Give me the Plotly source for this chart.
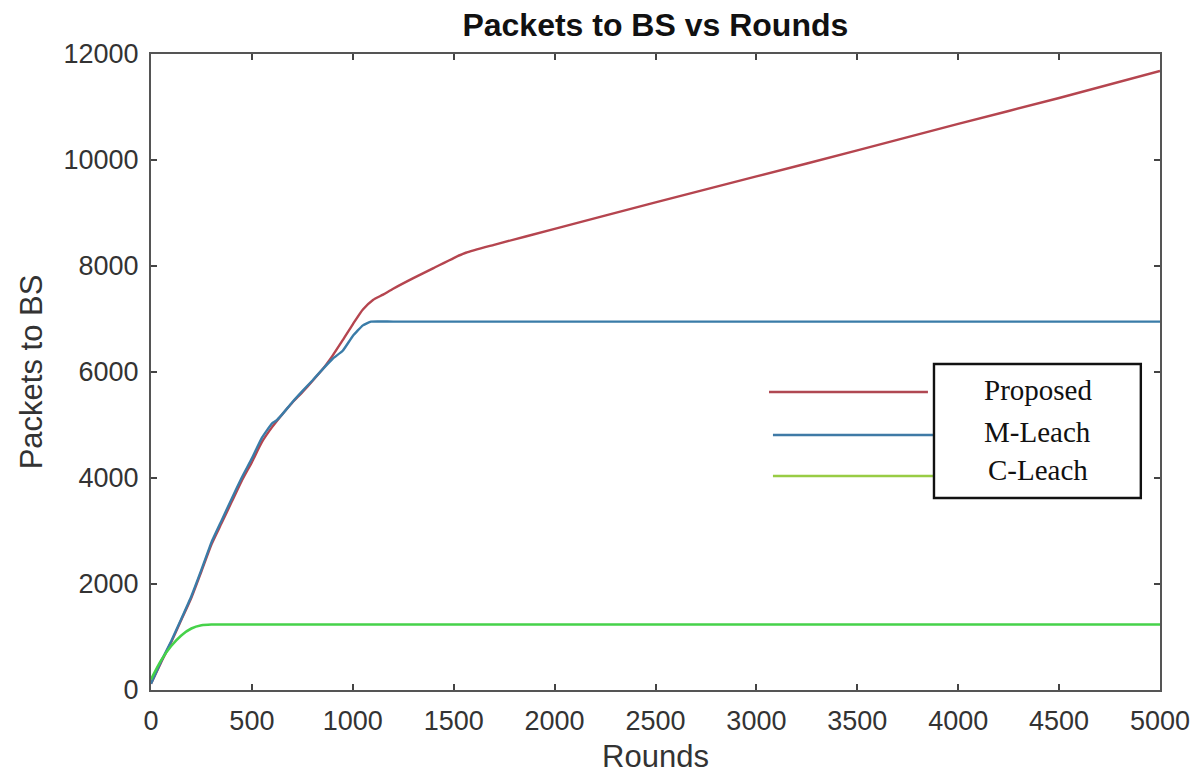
import plotly.graph_objects as go

rounds = [0, 50, 100, 150, 200, 250, 300, 350, 400, 450, 500, 550, 600, 650, 700,
          750, 800, 850, 900, 950, 1000, 1050, 1100, 1150, 1200, 1300, 1400, 1500,
          1560, 1700, 2000, 2500, 3000, 3500, 4000, 4500, 5000]
proposed = [120, 520, 900, 1320, 1740, 2240, 2750, 3150, 3550, 3950, 4300, 4680,
            4960, 5200, 5420, 5620, 5830, 6050, 6310, 6600, 6900, 7180, 7360, 7460,
            7570, 7770, 7960, 8150, 8250, 8400, 8700, 9200, 9690, 10180, 10680,
            11170, 11680]

mleach_rounds = [0, 50, 100, 150, 200, 250, 300, 350, 400, 450, 500, 550, 600, 620,
                 650, 700, 750, 800, 850, 900, 950, 1000, 1050, 1090, 1200, 2000,
                 3000, 4000, 5000]
mleach = [120, 540, 920, 1340, 1770, 2270, 2790, 3200, 3610, 4010, 4370, 4760, 5030,
          5080, 5200, 5430, 5640, 5840, 6050, 6250, 6400, 6680, 6880, 6950, 6950,
          6950, 6950, 6950, 6950]

cleach_rounds = [0, 50, 100, 150, 200, 250, 300, 500, 1000, 2000, 3000, 4000, 5000]
cleach = [200, 560, 830, 1030, 1160, 1220, 1235, 1235, 1235, 1235, 1235, 1235, 1235]

x_ticks = [0, 500, 1000, 1500, 2000, 2500, 3000, 3500, 4000, 4500, 5000]
y_ticks = [0, 2000, 4000, 6000, 8000, 10000, 12000]

legend_names = ["Proposed", "M-Leach", "C-Leach"]
line_colors = ["#b5454f", "#3a7ca8", "#46d24a"]
legend_colors = ["#b04852", "#3f7aa6", "#98cc44"]

fig = go.Figure()
fig.add_trace(go.Scatter(x=rounds, y=proposed, mode="lines", name=legend_names[0],
                         line=dict(color=line_colors[0], width=2.4, shape="spline", smoothing=0.6)))
fig.add_trace(go.Scatter(x=mleach_rounds, y=mleach, mode="lines", name=legend_names[1],
                         line=dict(color=line_colors[1], width=2.4, shape="spline", smoothing=0.4)))
fig.add_trace(go.Scatter(x=cleach_rounds, y=cleach, mode="lines", name=legend_names[2],
                         line=dict(color=line_colors[2], width=2.6, shape="spline", smoothing=0.8)))

# custom legend (lines outside box, serif text inside box)
shapes = []
annotations = []
leg_lines = [(0.6125, 0.770, 0.4686), (0.6164, 0.775, 0.401), (0.6164, 0.775, 0.3365)]
for (x0, x1, y), c in zip(leg_lines, legend_colors):
    shapes.append(dict(type="line", xref="paper", yref="paper", x0=x0, x1=x1, y0=y, y1=y,
                       line=dict(color=c, width=2.4)))
shapes.append(dict(type="rect", xref="paper", yref="paper", x0=0.776, x1=0.981,
                   y0=0.3019, y1=0.5126, line=dict(color="#111111", width=2.4),
                   fillcolor="rgba(0,0,0,0)"))
for name, y in zip(legend_names, [0.4717, 0.4057, 0.3460]):
    annotations.append(dict(text=name, xref="paper", yref="paper", x=0.879, y=y,
                            showarrow=False, xanchor="center", yanchor="middle",
                            font=dict(family="Liberation Serif, Times New Roman, serif",
                                      size=29, color="#111111")))

fig.update_layout(
    width=1201, height=776,
    margin=dict(l=143, r=49, t=46, b=94),
    paper_bgcolor="white", plot_bgcolor="white",
    showlegend=False,
    title=dict(text="<b>Packets to BS vs Rounds</b>", x=0.539, xanchor="center",
               y=0.978, yanchor="middle",
               font=dict(family="Liberation Sans, Arial", size=32, color="#111111")),
    shapes=shapes,
    annotations=annotations,
    font=dict(family="Liberation Sans, Arial, sans-serif", color="#333333"),
)
fig.update_xaxes(range=[0, 5000], tickvals=x_ticks, ticktext=[str(v) for v in x_ticks],
                 showgrid=False, zeroline=False, showline=True, linecolor="#555555", linewidth=2,
                 mirror="ticks", ticks="inside", ticklen=6, tickwidth=1.5, tickcolor="#444444",
                 ticklabelstandoff=6,
                 tickfont=dict(size=27, color="#333333"),
                 title=dict(text="Rounds", font=dict(size=31, color="#333333"), standoff=10))
fig.update_yaxes(range=[0, 12000], tickvals=y_ticks, ticktext=[str(v) for v in y_ticks],
                 showgrid=False, zeroline=False, showline=True, linecolor="#555555", linewidth=2,
                 mirror="ticks", ticks="inside", ticklen=6, tickwidth=1.5, tickcolor="#444444",
                 ticklabelstandoff=5,
                 tickfont=dict(size=27, color="#333333"),
                 title=dict(text="Packets to BS", font=dict(size=31, color="#333333"), standoff=12))

fig.write_html("out.html")
